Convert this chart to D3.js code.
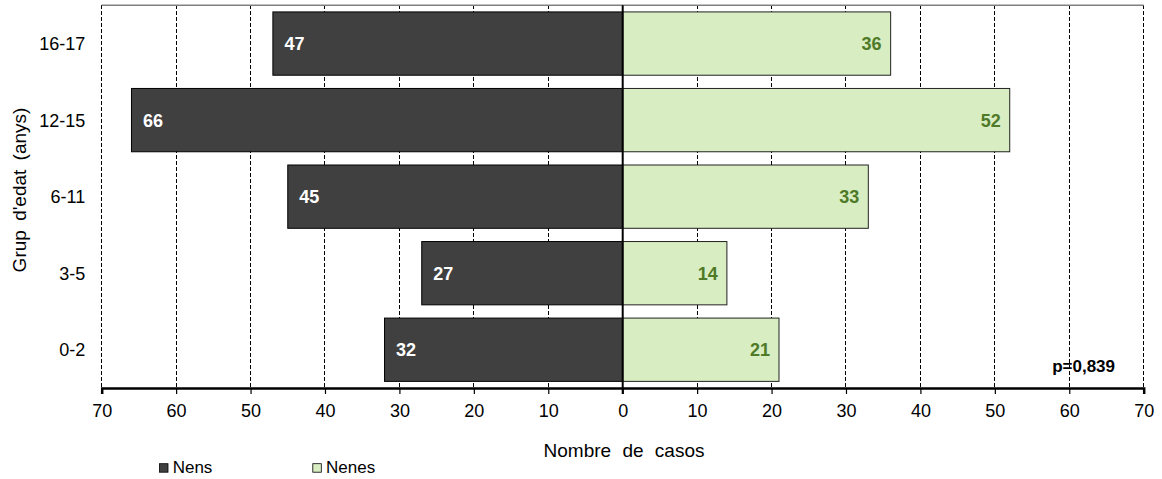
<!DOCTYPE html>
<html><head><meta charset="utf-8">
<script src="https://cdn.jsdelivr.net/npm/d3@7"></script>
<style>body{margin:0;background:#fff}svg{display:block;font-family:"Liberation Sans",Arial,sans-serif}</style>
</head><body><svg id="c" width="1162" height="479"></svg>
<script>
const categories = ["16-17","12-15","6-11","3-5","0-2"];
const nens = [47,66,45,27,32];
const nenes = [36,52,33,14,21];
const ticks = [-70,-60,-50,-40,-30,-20,-10,0,10,20,30,40,50,60,70];

const svg = d3.select("#c");
const L=101.7,R=1143.7,T=5.3,B=388;
const x = d3.scaleLinear().domain([-70,70]).range([L,R]);
const y = d3.scaleBand().domain(categories).range([T,B]).paddingInner(0.173).paddingOuter(0.0865);

// grid
svg.append("g").selectAll("line").data(ticks.filter(t=>t!==0)).join("line")
  .attr("x1",d=>x(d)).attr("x2",d=>x(d)).attr("y1",T).attr("y2",B)
  .attr("stroke","#000").attr("stroke-width",1).attr("stroke-dasharray","4,2")
  .attr("shape-rendering","crispEdges");
svg.append("line").attr("x1",L).attr("x2",R).attr("y1",T).attr("y2",T)
  .attr("stroke","#808080").attr("stroke-width",1.5);

// bars
svg.append("g").selectAll("rect").data(categories).join("rect")
  .attr("x",(d,i)=>x(-nens[i])).attr("y",d=>y(d))
  .attr("width",(d,i)=>x(0)-x(-nens[i])).attr("height",y.bandwidth())
  .attr("fill","#404040").attr("stroke","#000").attr("stroke-width",1);
svg.append("g").selectAll("rect").data(categories).join("rect")
  .attr("x",x(0)).attr("y",d=>y(d))
  .attr("width",(d,i)=>x(nenes[i])-x(0)).attr("height",y.bandwidth())
  .attr("fill","#d8edc2").attr("stroke","#222").attr("stroke-width",1);

// labels
svg.append("g").selectAll("text").data(categories).join("text")
  .attr("x",(d,i)=>x(-nens[i])+11.5).attr("y",d=>y(d)+y.bandwidth()/2).attr("dy","0.36em")
  .attr("fill","#fff").attr("font-weight","bold").attr("font-size",18)
  .text((d,i)=>nens[i]);
svg.append("g").selectAll("text").data(categories).join("text")
  .attr("x",(d,i)=>x(nenes[i])-9).attr("y",d=>y(d)+y.bandwidth()/2).attr("dy","0.36em")
  .attr("text-anchor","end").attr("fill","#4f7a28").attr("font-weight","bold").attr("font-size",18)
  .text((d,i)=>nenes[i]);

// zero line
svg.append("line").attr("x1",x(0)).attr("x2",x(0)).attr("y1",T).attr("y2",B+6)
  .attr("stroke","#000").attr("stroke-width",2);

// x axis
const xa = svg.append("g").attr("transform",`translate(0,${B})`)
  .call(d3.axisBottom(x).tickValues(ticks).tickSize(6).tickFormat(d=>Math.abs(d)));
xa.select(".domain").attr("stroke","#000").attr("stroke-width",2.5);
xa.selectAll(".tick line").attr("stroke","#000").attr("stroke-width",1.2);
xa.selectAll("text").attr("font-size",18).attr("fill","#000").attr("y",29).attr("dy",0)
  .attr("font-family","'Liberation Sans',Arial,sans-serif");

// y axis labels
const ya = svg.append("g").attr("transform",`translate(${L},0)`)
  .call(d3.axisLeft(y).tickSize(0).tickPadding(16.5));
ya.select(".domain").remove();
ya.selectAll("text").attr("font-size",18).attr("fill","#000").attr("dy","0.36em")
  .attr("font-family","'Liberation Sans',Arial,sans-serif");

// titles
svg.append("text").attr("x",624).attr("y",457).attr("text-anchor","middle")
  .attr("font-size",19).attr("word-spacing","6px").text("Nombre de casos");
svg.append("text").attr("transform","translate(26,190) rotate(-90)").attr("text-anchor","middle")
  .attr("font-size",19).attr("word-spacing","4px").text("Grup d'edat (anys)");

svg.append("text").attr("x",1115).attr("y",372).attr("text-anchor","end")
  .attr("font-size",17).attr("font-weight","bold").text("p=0,839");

// legend
const leg = [{n:"Nens",c:"#404040"},{n:"Nenes",c:"#d8edc2"}];
const lg = svg.append("g").selectAll("g").data(leg).join("g")
  .attr("transform",(d,i)=>`translate(${159.5+i*153.3},463.7)`);
lg.append("rect").attr("width",8.5).attr("height",8.5).attr("fill",d=>d.c).attr("stroke","#000").attr("stroke-width",0.8);
lg.append("text").attr("x",13.2).attr("y",9.3).attr("font-size",17).text(d=>d.n);
</script></body></html>
